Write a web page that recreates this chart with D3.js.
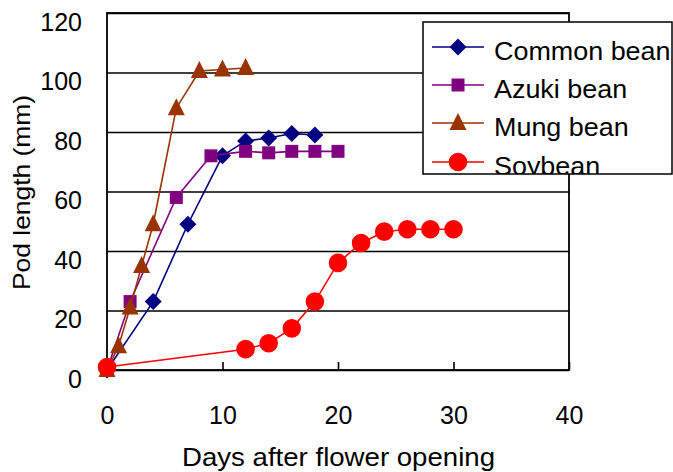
<!DOCTYPE html>
<html>
<head>
<meta charset="utf-8">
<script src="https://cdn.jsdelivr.net/npm/d3@7"></script>
<style>
  html, body { margin: 0; padding: 0; background: #fff; }
  svg { display: block; }
  text { font-family: "Liberation Sans", Arial, sans-serif; fill: #000; }
</style>
</head>
<body>
<script>
// Pod elongation after flower opening, four legumes
const commonDays = [0, 4, 7, 10, 12, 14, 16, 18];
const commonLen  = [0, 23, 49, 72, 77, 78, 79.5, 79];

const azukiDays = [0, 2, 6, 9, 12, 14, 16, 18, 20];
const azukiLen  = [0, 23, 58, 72, 73.5, 73, 73.5, 73.5, 73.5];

const mungDays = [0, 1, 2, 3, 4, 6, 8, 10, 12];
const mungLen  = [0, 8, 21, 35, 49, 88, 100.5, 101, 101.5];

const soyDays = [0, 12, 14, 16, 18, 20, 22, 24, 26, 28, 30];
const soyLen  = [1, 7, 9, 14, 23, 36, 42.7, 46.5, 47.3, 47.3, 47.3];

const seriesNames = ["Common bean", "Azuki bean", "Mung bean", "Soybean"];
const seriesColors = ["#000080", "#800080", "#993300", "#FF0000"];
const seriesShapes = ["diamond", "square", "triangle", "circle"];

const xTickValues = [0, 10, 20, 30, 40];
const yTickValues = [0, 20, 40, 60, 80, 100, 120];

const xTitle = "Days after flower opening";
const yTitle = "Pod length (mm)";

const series = [
  { days: commonDays, len: commonLen },
  { days: azukiDays, len: azukiLen },
  { days: mungDays, len: mungLen },
  { days: soyDays, len: soyLen }
].map((s, i) => ({
  name: seriesNames[i], color: seriesColors[i], shape: seriesShapes[i],
  points: s.days.map((d, j) => ({ d, v: s.len[j] }))
}));

const W = 673, H = 472;
const plotL = 107, plotR = 569, plotT = 13, plotB = 370;

const x = d3.scaleLinear().domain([0, 40]).range([plotL, plotR]);
const y = d3.scaleLinear().domain([0, 120]).range([plotB, plotT]);

const svg = d3.select("body").append("svg")
  .attr("width", W).attr("height", H);

// horizontal gridlines and y labels
const yAxis = svg.append("g")
  .attr("transform", `translate(${plotL},0)`)
  .call(d3.axisLeft(y).tickValues(yTickValues)
    .tickSizeInner(-(plotR - plotL)).tickSizeOuter(0).tickPadding(25));
yAxis.select(".domain").remove();
yAxis.selectAll(".tick line").attr("stroke", "#000").attr("stroke-width", 1.6);
yAxis.selectAll(".tick text")
  .attr("font-size", 25)
  .attr("dy", "0.32em").attr("y", 9);
yAxis.attr("font-family", null).attr("font-size", null);

// x labels with small inward tick marks
const xAxis = svg.append("g")
  .attr("transform", `translate(0,${plotB})`)
  .call(d3.axisBottom(x).tickValues(xTickValues)
    .tickSizeInner(-8).tickSizeOuter(0).tickPadding(36));
xAxis.select(".domain").remove();
xAxis.selectAll(".tick line").attr("stroke", "#000").attr("stroke-width", 1.6);
xAxis.selectAll(".tick text").attr("font-size", 25);
xAxis.attr("font-family", null).attr("font-size", null);

// plot frame
svg.append("rect")
  .attr("x", plotL).attr("y", plotT)
  .attr("width", plotR - plotL).attr("height", plotB - plotT)
  .attr("fill", "none").attr("stroke", "#000").attr("stroke-width", 1.8);

// marker shapes
function markerPath(shape) {
  switch (shape) {
    case "diamond": return "M0,-8.5L8.5,0L0,8.5L-8.5,0Z";
    case "square": return "M-6.5,-6.5H6.5V6.5H-6.5Z";
    case "triangle": return "M0,-10L8.5,7L-8.5,7Z";
    default: return d3.symbol(d3.symbolCircle, Math.PI * 9.3 * 9.3)();
  }
}

const line = d3.line().x(p => x(p.d)).y(p => y(p.v));

series.forEach(s => {
  const g = svg.append("g");
  g.append("path").datum(s.points)
    .attr("d", line).attr("fill", "none")
    .attr("stroke", s.color).attr("stroke-width", 1.6);
  g.selectAll("path.mk").data(s.points).join("path")
    .attr("class", "mk")
    .attr("transform", p => `translate(${x(p.d)},${y(p.v)})`)
    .attr("d", markerPath(s.shape))
    .attr("fill", s.color);
});

// axis titles
svg.append("text")
  .attr("x", (182 + 495) / 2).attr("y", 466)
  .attr("text-anchor", "middle").attr("font-size", 26)
  .attr("textLength", 313).attr("lengthAdjust", "spacingAndGlyphs")
  .text(xTitle);

svg.append("text")
  .attr("transform", `translate(30,${(plotT + plotB) / 2 + 1}) rotate(-90)`)
  .attr("text-anchor", "middle").attr("font-size", 24)
  .attr("textLength", 195).attr("lengthAdjust", "spacingAndGlyphs")
  .text(yTitle);

// legend
const lgX = 423, lgY = 22, lgW = 249, lgH = 152;
svg.append("clipPath").attr("id", "lgclip")
  .append("rect").attr("x", lgX).attr("y", lgY).attr("width", lgW).attr("height", lgH);
svg.append("rect")
  .attr("x", lgX).attr("y", lgY).attr("width", lgW).attr("height", lgH)
  .attr("fill", "#fff").attr("stroke", "#000").attr("stroke-width", 1.5);

const lg = svg.append("g").attr("clip-path", "url(#lgclip)");
const rowY = [47, 85, 123, 162];
const rows = lg.selectAll("g.row").data(series).join("g")
  .attr("class", "row")
  .attr("transform", (s, i) => `translate(0,${rowY[i]})`);
rows.append("line")
  .attr("x1", 432).attr("x2", 484)
  .attr("stroke", d => d.color).attr("stroke-width", 1.6);
rows.append("path")
  .attr("transform", "translate(458,0)")
  .attr("d", d => markerPath(d.shape))
  .attr("fill", d => d.color);
rows.append("text")
  .attr("x", 494).attr("y", 13)
  .attr("font-size", 26)
  .text(d => d.name)
  .each(function () {
    // the legend face runs slightly wider than the default sans
    const w = this.getComputedTextLength();
    d3.select(this).attr("textLength", w * 1.035).attr("lengthAdjust", "spacingAndGlyphs");
  });
</script>
</body>
</html>
